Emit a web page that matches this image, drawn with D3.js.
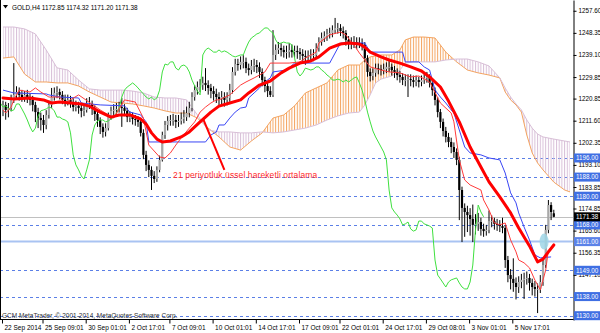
<!DOCTYPE html>
<html>
<head>
<meta charset="utf-8">
<script src="https://cdn.jsdelivr.net/npm/d3@7/dist/d3.min.js"></script>
<style>
body { margin: 0; background: #fff; }
svg text { font-family: "Liberation Sans", Arial, sans-serif; }
</style>
</head>
<body>
<svg id="chart" width="600" height="333"></svg>
<script>
// GOLD H4 candles
var opens = [1216.0,1218.2,1216.1,1216.9,1220.3,1222.4,1223.6,1222.4,1221.5,1222.4,
1221.5,1220.3,1218.2,1215.2,1212.7,1211.9,1209.8,1214.0,1218.2,1221.5,
1223.2,1223.6,1222.4,1220.3,1219.4,1220.3,1219.0,1217.3,1217.8,1216.9,
1215.7,1216.1,1218.6,1218.6,1216.5,1214.4,1211.9,1209.0,1206.9,1208.5,
1213.6,1215.7,1216.1,1216.5,1217.3,1216.9,1215.7,1213.1,1213.1,1212.3,
1211.9,1211.1,1206.5,1197.3,1193.1,1191.0,1188.5,1187.2,1191.0,1195.2,
1205.6,1209.8,1211.5,1211.9,1211.9,1211.1,1211.5,1212.3,1213.1,1214.8,
1216.9,1221.5,1224.4,1225.7,1226.5,1227.4,1226.5,1225.3,1224.0,1222.8,
1221.5,1220.7,1221.5,1220.3,1221.1,1224.4,1232.0,1235.3,1234.9,1236.2,
1236.2,1233.6,1232.8,1234.5,1234.9,1234.1,1232.0,1228.6,1226.1,1224.0,
1222.4,1239.1,1241.2,1242.0,1241.2,1240.3,1240.3,1241.2,1240.3,1240.8,
1240.3,1239.5,1238.7,1238.3,1238.7,1239.1,1239.1,1242.0,1244.5,1246.2,
1247.0,1247.9,1248.3,1249.5,1250.4,1250.4,1249.1,1248.3,1245.4,1243.7,
1244.1,1244.5,1244.1,1244.1,1243.3,1237.8,1232.0,1230.3,1231.6,1233.6,
1233.2,1232.8,1233.2,1234.1,1234.1,1232.8,1232.0,1230.7,1229.9,1228.6,
1228.6,1229.0,1228.6,1227.8,1228.6,1227.8,1228.6,1229.5,1229.9,1227.4,
1224.4,1220.3,1215.2,1211.1,1207.3,1204.8,1202.7,1200.6,1198.5,1195.2,
1182.6,1175.1,1173.4,1172.1,1170.5,1168.0,1168.4,1169.2,1166.3,1165.4,
1165.9,1169.6,1169.6,1168.4,1168.0,1167.5,1166.7,1153.3,1147.0,1145.4,
1143.7,1142.0,1144.1,1145.0,1145.4,1145.8,1143.7,1142.0,1141.2,1141.2,
1144.1,1151.2,1165.9,1176.3,1172.85];
var highs = [1220.0,1219.5,1219.0,1222.5,1235.7,1226.0,1225.5,1224.5,1224.0,1224.5,
1223.0,1222.0,1219.5,1217.0,1215.0,1214.0,1216.0,1220.0,1225.3,1225.5,
1226.0,1225.0,1224.0,1222.5,1222.5,1222.0,1221.0,1220.0,1219.5,1218.5,
1218.5,1221.0,1221.5,1220.0,1218.0,1215.5,1213.0,1210.5,1210.5,1215.0,
1217.5,1218.5,1219.0,1219.5,1221.1,1218.5,1217.0,1215.5,1215.0,1214.0,
1213.5,1212.5,1208.0,1199.0,1195.0,1192.5,1190.5,1192.5,1197.0,1207.0,
1211.5,1213.5,1214.0,1214.5,1214.0,1214.0,1215.0,1216.0,1217.5,1219.5,
1223.5,1226.5,1228.0,1229.0,1230.0,1233.6,1228.5,1227.0,1226.0,1225.0,
1223.5,1224.0,1223.5,1223.5,1227.0,1234.0,1237.5,1237.5,1238.5,1239.0,
1238.0,1235.5,1237.0,1237.5,1237.0,1236.0,1233.5,1230.0,1228.0,1226.0,
1249.5,1243.5,1244.5,1244.0,1243.0,1243.0,1244.0,1243.5,1243.0,1243.0,
1242.0,1241.5,1241.0,1241.0,1241.5,1241.5,1244.0,1246.5,1248.5,1249.0,
1250.0,1250.5,1251.5,1254.6,1252.5,1252.0,1251.0,1249.5,1247.0,1246.5,
1247.0,1246.5,1246.5,1246.0,1244.5,1239.0,1233.5,1233.5,1235.5,1235.5,
1235.0,1235.5,1236.0,1236.5,1235.5,1234.5,1233.5,1232.5,1231.5,1231.0,
1231.0,1231.0,1230.5,1230.5,1230.0,1230.5,1231.5,1232.0,1231.0,1228.5,
1225.5,1221.5,1216.5,1212.5,1209.0,1206.5,1204.5,1202.5,1200.0,1196.5,
1184.0,1177.0,1176.0,1175.0,1176.5,1172.5,1173.0,1171.0,1168.5,1168.0,
1174.0,1172.0,1171.0,1170.5,1170.0,1171.0,1168.0,1155.0,1149.5,1154.0,
1146.0,1146.5,1147.5,1148.0,1148.5,1147.5,1145.5,1144.5,1143.5,1147.0,
1153.5,1168.0,1178.4,1177.5,1174.32];
var lows = [1213.5,1212.0,1213.0,1215.5,1219.0,1220.5,1220.0,1219.5,1219.5,1219.0,
1218.0,1215.5,1211.0,1208.5,1207.5,1206.5,1208.0,1212.5,1217.0,1220.0,
1221.0,1220.5,1218.5,1217.5,1218.0,1217.0,1215.5,1215.5,1214.5,1213.0,
1213.5,1215.0,1216.5,1214.0,1211.5,1209.0,1206.0,1204.5,1205.0,1207.5,
1212.0,1214.0,1214.0,1215.0,1209.0,1213.5,1211.0,1211.0,1210.0,1209.5,
1209.0,1205.0,1195.5,1190.5,1188.0,1182.6,1185.5,1186.0,1190.0,1194.5,
1204.0,1207.5,1209.5,1209.5,1208.5,1209.0,1210.0,1210.5,1211.5,1213.0,
1215.5,1220.0,1222.5,1223.5,1224.5,1224.0,1222.5,1221.0,1220.0,1219.0,
1218.0,1218.5,1217.5,1218.0,1219.5,1223.0,1230.5,1232.5,1233.0,1233.5,
1231.5,1230.5,1231.0,1232.0,1231.5,1229.5,1226.0,1223.5,1221.5,1221.5,
1221.5,1237.0,1239.5,1238.5,1238.0,1237.5,1238.0,1238.0,1238.0,1237.5,
1237.0,1236.0,1235.0,1236.0,1236.5,1236.5,1237.5,1240.5,1243.0,1244.5,
1245.0,1246.0,1246.5,1248.0,1248.0,1247.0,1246.0,1243.0,1241.5,1241.5,
1242.0,1241.5,1242.0,1241.0,1236.0,1230.0,1228.0,1228.5,1230.0,1231.0,
1230.5,1231.0,1231.5,1232.0,1230.5,1229.5,1228.5,1227.5,1226.5,1226.0,
1221.5,1226.0,1225.5,1226.0,1225.5,1226.0,1227.0,1227.5,1225.5,1222.0,
1218.0,1213.0,1208.5,1205.0,1202.5,1200.5,1198.0,1196.0,1193.0,1170.0,
1160.8,1163.0,1165.0,1163.5,1160.8,1164.0,1165.5,1163.5,1163.0,1163.5,
1164.5,1167.0,1166.0,1165.5,1165.0,1164.5,1150.0,1144.0,1141.0,1140.0,
1136.8,1139.5,1141.5,1137.0,1143.0,1140.5,1138.5,1138.0,1131.1,1139.5,
1142.5,1150.0,1164.5,1170.0,1171.20];
var closes = [1218.2,1216.1,1216.9,1220.3,1222.4,1223.6,1222.4,1221.5,1222.4,1221.5,
1220.3,1218.2,1215.2,1212.7,1211.9,1209.8,1214.0,1218.2,1221.5,1223.2,
1223.6,1222.4,1220.3,1219.4,1220.3,1219.0,1217.3,1217.8,1216.9,1215.7,
1216.1,1218.6,1218.6,1216.5,1214.4,1211.9,1209.0,1206.9,1208.5,1213.6,
1215.7,1216.1,1216.5,1217.3,1216.9,1215.7,1213.1,1213.1,1212.3,1211.9,
1211.1,1206.5,1197.3,1193.1,1191.0,1188.5,1187.2,1191.0,1195.2,1205.6,
1209.8,1211.5,1211.9,1211.9,1211.1,1211.5,1212.3,1213.1,1214.8,1216.9,
1221.5,1224.4,1225.7,1226.5,1227.4,1226.5,1225.3,1224.0,1222.8,1221.5,
1220.7,1221.5,1220.3,1221.1,1224.4,1232.0,1235.3,1234.9,1236.2,1236.2,
1233.6,1232.8,1234.5,1234.9,1234.1,1232.0,1228.6,1226.1,1224.0,1222.4,
1239.1,1241.2,1242.0,1241.2,1240.3,1240.3,1241.2,1240.3,1240.8,1240.3,
1239.5,1238.7,1238.3,1238.7,1239.1,1239.1,1242.0,1244.5,1246.2,1247.0,
1247.9,1248.3,1249.5,1250.4,1250.4,1249.1,1248.3,1245.4,1243.7,1244.1,
1244.5,1244.1,1244.1,1243.3,1237.8,1232.0,1230.3,1231.6,1233.6,1233.2,
1232.8,1233.2,1234.1,1234.1,1232.8,1232.0,1230.7,1229.9,1228.6,1228.6,
1229.0,1228.6,1227.8,1228.6,1227.8,1228.6,1229.5,1229.9,1227.4,1224.4,
1220.3,1215.2,1211.1,1207.3,1204.8,1202.7,1200.6,1198.5,1195.2,1182.6,
1175.1,1173.4,1172.1,1170.5,1168.0,1168.4,1169.2,1166.3,1165.4,1165.9,
1169.6,1169.6,1168.4,1168.0,1167.5,1166.7,1153.3,1147.0,1145.4,1143.7,
1142.0,1144.1,1145.0,1145.4,1145.8,1143.7,1142.0,1141.2,1141.2,1144.1,
1151.2,1165.9,1176.3,1173.4,1171.38];

// 21 period EMA (thick red), [bar, price]
var emaLine = [[0,1221.1],[4,1220.7],[10,1221.1],[15,1220.3],[18,1219.0],[21,1219.4],[25,1219.0],
[29,1218.6],[32,1217.7],[36,1215.2],[40,1213.1],[43,1214.0],[47,1214.0],[51,1212.3],[53,1210.2],
[55,1206.5],[57,1203.9],[59,1202.7],[62,1203.1],[66,1204.8],[69,1206.9],[73,1211.1],[77,1215.2],
[80,1217.7],[84,1219.0],[88,1220.3],[91,1223.2],[95,1226.5],[99,1228.2],[103,1231.6],[106,1233.6],
[110,1235.7],[114,1236.6],[117,1238.3],[121,1242.0],[125,1243.7],[128,1244.1],[132,1243.7],
[134,1242.4],[136,1240.3],[140,1238.3],[143,1237.0],[147,1235.7],[151,1234.1],[155,1232.4],
[158,1229.9],[162,1225.7],[165,1219.8],[169,1211.1],[173,1200.6],[177,1192.2],[180,1186.0],
[184,1179.7],[188,1173.0],[191,1166.7],[195,1159.2],[198,1152.5],[200,1153.7],[202,1156.7],[204,1159.6]];

// Ichimoku: tenkan (thin red), kijun (blue), [bar, price]
var tenkanLine = [[0,1216.1],[1,1214.8],[3,1217.3],[4,1220.3],[6,1224.4],[10,1223.6],[12,1225.3],
[14,1223.6],[17,1221.5],[21,1221.5],[23,1219.0],[28,1222.4],[36,1216.1],[41,1212.7],[45,1220.3],
[49,1219.4],[52,1212.7],[54,1201.4],[58,1196.4],[60,1196.0],[62,1198.1],[64,1201.4],[66,1204.4],
[69,1208.5],[71,1211.1],[73,1215.2],[75,1217.3],[77,1219.0],[79,1220.3],[80,1220.3],[84,1222.4],
[88,1226.5],[90,1227.8],[93,1229.5],[95,1230.7],[97,1232.0],[99,1235.7],[106,1235.7],[110,1236.2],
[112,1237.8],[116,1240.3],[117,1244.1],[121,1247.5],[125,1248.7],[127,1247.5],[129,1244.5],
[130,1243.3],[132,1239.9],[134,1237.0],[136,1234.1],[140,1232.8],[143,1232.0],[147,1231.6],
[151,1229.9],[154,1230.3],[158,1227.8],[162,1219.0],[166,1214.8],[167,1211.1],[169,1195.2],
[171,1186.8],[173,1184.7],[177,1182.6],[178,1178.4],[180,1174.2],[182,1168.8],[184,1168.0],
[186,1168.8],[188,1161.7],[190,1156.7],[191,1153.3],[193,1152.1],[195,1150.0],[197,1144.9],
[199,1140.8],[201,1149.1],[202,1157.5]];
var kijunLine = [[0,1224.4],[4,1223.2],[16,1222.8],[17,1222.4],[21,1221.5],[28,1221.1],[29,1219.0],
[36,1218.2],[45,1217.8],[47,1215.2],[51,1214.0],[53,1211.1],[54,1202.7],[75,1202.7],[77,1205.6],
[79,1206.9],[80,1209.8],[82,1209.8],[84,1212.7],[86,1215.2],[88,1216.9],[90,1217.3],[91,1221.1],
[93,1223.2],[95,1225.3],[97,1227.8],[99,1229.5],[100,1232.0],[105,1232.8],[108,1235.7],[121,1235.7],
[122,1237.8],[125,1244.1],[134,1244.1],[136,1240.3],[148,1240.3],[149,1236.2],[154,1236.2],
[156,1234.1],[158,1232.8],[160,1224.4],[162,1221.5],[164,1219.0],[166,1216.1],[167,1214.8],
[169,1207.7],[171,1200.6],[173,1198.1],[177,1197.3],[180,1196.0],[184,1195.2],[186,1189.7],
[188,1181.4],[190,1177.2],[191,1173.0],[193,1167.1],[195,1161.7],[197,1155.4],[199,1154.2],[203,1154.6]];

// Ichimoku cloud (senkou spans A and B, already shifted forward)
var cloudBars = [0,4,8,12,16,20,24,28,32,36,40,44,48,52,56,60,64,68,72,76,80,84,88,92,96,100,
104,108,112,116,120,124,128,132,134,136,138,140,144,147,149,152,156,160,164,168,172,176,180,184,
186,188,190,192,194,196,198,200,204,208,210];
var spanA = [1237.8,1238.3,1231.1,1227.8,1227.8,1227.4,1227.4,1226.1,1223.6,1221.5,1219.4,1219.0,
1218.6,1217.8,1216.9,1215.7,1214.8,1214.8,1212.7,1208.5,1204.8,1200.6,1199.3,1203.1,1206.5,1212.7,
1214.0,1217.8,1223.2,1225.3,1227.4,1232.8,1234.9,1234.9,1237.0,1238.3,1238.7,1239.1,1239.1,1241.2,
1245.4,1246.6,1246.6,1246.2,1240.3,1236.2,1232.8,1231.6,1230.7,1229.5,1223.6,1220.3,1218.2,1215.2,
1205.6,1198.1,1193.9,1191.0,1185.9,1182.6,1181.8];
var spanB = [1250.8,1250.8,1250.0,1247.9,1241.2,1233.7,1232.8,1228.6,1224.9,1224.4,1224.4,1224.4,
1224.0,1223.2,1221.5,1221.1,1221.1,1220.3,1214.0,1207.7,1206.9,1206.9,1206.5,1206.5,1206.9,1206.5,
1206.9,1207.7,1208.5,1209.8,1211.9,1213.6,1214.8,1215.2,1218.2,1222.4,1227.4,1229.0,1230.3,1232.8,
1235.7,1236.2,1236.2,1236.2,1237.0,1237.4,1237.4,1236.2,1234.5,1229.5,1225.3,1221.5,1218.6,1216.1,
1211.9,1208.5,1206.0,1204.8,1203.9,1203.1,1202.7];
var chikouShift = 26;

// horizontal levels
var dashedLevels = [1196.00, 1188.00, 1180.00, 1168.00, 1149.00, 1138.00, 1130.00];
var solidLevel = 1161.00;
var bidPrice = 1171.38;

// axes
var priceTicks = [1257.60, 1248.35, 1239.10, 1229.85, 1220.85, 1211.60, 1202.35, 1193.10,
  1183.85, 1174.85, 1165.60, 1156.35, 1147.10];
var timeBars = [0, 15, 31, 47, 62, 78, 94, 110, 125, 141, 157, 173, 189];
var timeLabels = ["22 Sep 2014", "25 Sep 09:01", "30 Sep 01:01", "2 Oct 17:01", "7 Oct 09:01",
  "10 Oct 01:01", "14 Oct 17:01", "17 Oct 09:01", "22 Oct 01:01", "24 Oct 17:01",
  "29 Oct 08:01", "3 Nov 01:01", "5 Nov 17:01"];

var titleText = "GOLD,H4  1172.85 1174.32 1171.20 1171.38";
var noteText = "21 periyotluk üssel hareketli ortalama";
var noteFrom = [74, 1212.7], noteTo = [82, 1191.0], noteAt = [63, 1187.8];
var markerAt = [200.4, 1161.0];

var svg = d3.select("#chart");
var x = d3.scaleLinear().domain([0, 204]).range([3, 553.8]);
var y = d3.scaleLinear().domain([1128.2, 1262.1]).range([320, 0]);
var barW = x(1) - x(0);

var defs = svg.append("defs");
defs.append("clipPath").attr("id", "plotClip")
  .append("rect").attr("x", 1).attr("y", 0).attr("width", 572).attr("height", 319.5);

var cx = function(d, k) { return x(cloudBars[k]); };
defs.append("clipPath").attr("id", "aboveB").append("path")
  .attr("d", d3.area().x(cx).y0(0).y1(function(d) { return y(d); })(spanB));
defs.append("clipPath").attr("id", "belowB").append("path")
  .attr("d", d3.area().x(cx).y0(330).y1(function(d) { return y(d); })(spanB));

function hatch(id, color) {
  var p = defs.append("pattern").attr("id", id)
    .attr("patternUnits", "userSpaceOnUse")
    .attr("x", x(0) - 0.5).attr("y", 0)
    .attr("width", barW).attr("height", 20);
  p.append("rect").attr("width", 1).attr("height", 20).attr("fill", color);
}
hatch("hatchA", "#f4a460");
hatch("hatchB", "#d8bfd8");

var plot = svg.append("g").attr("clip-path", "url(#plotClip)");

// levels
plot.selectAll(".lvl").data(dashedLevels).join("line")
  .attr("class", "lvl")
  .attr("x1", 0).attr("x2", 573)
  .attr("y1", function(d) { return Math.round(y(d)) + 0.5; })
  .attr("y2", function(d) { return Math.round(y(d)) + 0.5; })
  .attr("stroke", "#5b7fe6").attr("stroke-width", 1).attr("stroke-dasharray", "3,3");
plot.append("line")
  .attr("x1", 0).attr("x2", 573).attr("y1", y(solidLevel)).attr("y2", y(solidLevel))
  .attr("stroke", "#a9c3f2").attr("stroke-width", 2);
plot.append("line")
  .attr("x1", 0).attr("x2", 573).attr("y1", Math.round(y(bidPrice)) + 0.5).attr("y2", Math.round(y(bidPrice)) + 0.5)
  .attr("stroke", "#c0c0c0").attr("stroke-width", 1);

// cloud
var cloudArea = d3.area().x(cx)
  .y0(function(d, k) { return y(spanB[k]); })
  .y1(function(d, k) { return y(spanA[k]); });
plot.append("g").attr("clip-path", "url(#aboveB)")
  .append("path").attr("d", cloudArea(spanA)).attr("fill", "url(#hatchA)");
plot.append("g").attr("clip-path", "url(#belowB)")
  .append("path").attr("d", cloudArea(spanA)).attr("fill", "url(#hatchB)");
plot.append("path")
  .attr("d", d3.line().x(cx).y(function(d) { return y(d); })(spanA))
  .attr("fill", "none").attr("stroke", "#f4a460").attr("stroke-width", 1);
plot.append("path")
  .attr("d", d3.line().x(cx).y(function(d) { return y(d); })(spanB))
  .attr("fill", "none").attr("stroke", "#d8bfd8").attr("stroke-width", 1);

// candles
var bars = d3.range(closes.length);
var candle = plot.append("g").selectAll("g").data(bars).join("g");
candle.append("line")
  .attr("x1", function(i) { return x(i); }).attr("x2", function(i) { return x(i); })
  .attr("y1", function(i) { return y(highs[i]); }).attr("y2", function(i) { return y(lows[i]); })
  .attr("stroke", "#000").attr("stroke-width", 1);
candle.append("rect")
  .attr("x", function(i) { return x(i) - 1.1; })
  .attr("width", 2.2)
  .attr("y", function(i) { return y(Math.max(opens[i], closes[i])); })
  .attr("height", function(i) { return Math.max(0.8, Math.abs(y(opens[i]) - y(closes[i]))); })
  .attr("fill", function(i) { return closes[i] >= opens[i] ? "#a8a8a8" : "#000"; });

// chikou span
plot.append("path")
  .attr("d", d3.line()
    .x(function(d, i) { return x(i - chikouShift); })
    .y(function(d) { return y(d); })(closes))
  .attr("fill", "none").attr("stroke", "#3fe03f").attr("stroke-width", 1);

var pairLine = d3.line().x(function(d) { return x(d[0]); }).y(function(d) { return y(d[1]); });
plot.append("path").attr("d", pairLine(kijunLine))
  .attr("fill", "none").attr("stroke", "#3a46f5").attr("stroke-width", 1);
plot.append("path").attr("d", pairLine(tenkanLine))
  .attr("fill", "none").attr("stroke", "#ff3b3b").attr("stroke-width", 1);
plot.append("path").attr("d", pairLine(emaLine))
  .attr("fill", "none").attr("stroke", "#ff0000").attr("stroke-width", 3)
  .attr("stroke-linejoin", "round").attr("stroke-linecap", "round");

// marker
plot.append("ellipse")
  .attr("cx", x(markerAt[0])).attr("cy", y(markerAt[1]))
  .attr("rx", 4.5).attr("ry", 8).attr("fill", "#9fd6e6").attr("opacity", 0.85);

// annotation
plot.append("line")
  .attr("x1", x(noteFrom[0])).attr("y1", y(noteFrom[1]))
  .attr("x2", x(noteTo[0])).attr("y2", y(noteTo[1]))
  .attr("stroke", "#ff0000").attr("stroke-width", 2);
plot.append("text")
  .attr("x", x(noteAt[0])).attr("y", y(noteAt[1]))
  .attr("font-size", 8.5).attr("fill", "#ff2a2a").attr("letter-spacing", 0.1)
  .text(noteText);

// copyright
plot.append("text").attr("x", 2).attr("y", 318)
  .attr("font-size", 6.5).attr("fill", "#333")
  .text("GCM MetaTrader, \u00a9 2001-2014, MetaQuotes Software Corp.");

// title
svg.append("path").attr("d", "M3,5 L8,5 L5.5,8.5 Z").attr("fill", "#000");
svg.append("text").attr("x", 12).attr("y", 9.5).attr("font-size", 6.4).attr("fill", "#000")
  .text(titleText);

// frame
svg.append("line").attr("x1", 0.5).attr("x2", 0.5).attr("y1", 0).attr("y2", 320).attr("stroke", "#000");

// right price axis
var yAxis = d3.axisRight(y).tickValues(priceTicks).tickSize(3).tickSizeOuter(0).tickPadding(2)
  .tickFormat(d3.format(".2f"));
var ga = svg.append("g").attr("transform", "translate(573.5,0)").call(yAxis);
ga.select(".domain").attr("stroke", "#000");
ga.selectAll("text").attr("font-size", 6.3).attr("fill", "#000")
  .style("font-family", "'Liberation Sans', Arial, sans-serif");
ga.selectAll("line").attr("stroke", "#000");

// level labels on the price axis
var labelLevels = dashedLevels.concat([solidLevel]);
var lab = svg.append("g").selectAll("g").data(labelLevels).join("g")
  .attr("transform", function(d) { return "translate(574," + y(d) + ")"; });
lab.append("rect").attr("x", 0).attr("y", -4.5).attr("width", 26).attr("height", 9)
  .attr("fill", function(d) { return d === solidLevel ? "#5b82e8" : "#3f6fe3"; });
lab.append("text").attr("x", 2).attr("y", 2.3).attr("font-size", 6.3).attr("fill", "#fff")
  .text(function(d) { return d3.format(".2f")(d); });
var bid = svg.append("g").attr("transform", "translate(574," + y(bidPrice) + ")");
bid.append("rect").attr("x", 0).attr("y", -4.5).attr("width", 26).attr("height", 9).attr("fill", "#000");
bid.append("text").attr("x", 2).attr("y", 2.3).attr("font-size", 6.3).attr("fill", "#fff")
  .text(d3.format(".2f")(bidPrice));

// time axis
var xAxis = d3.axisBottom(x).tickValues(timeBars).tickSize(4).tickSizeOuter(0)
  .tickFormat(function(d, k) { return timeLabels[k]; });
var gx = svg.append("g").attr("transform", "translate(-1,319.5)").call(xAxis);
gx.select(".domain").attr("d", "M1.5,0H574.5").attr("stroke", "#000");
gx.selectAll("line").attr("stroke", "#000");
gx.selectAll("text").attr("text-anchor", "start").attr("x", 2).attr("dy", "0.55em")
  .attr("font-size", 6.5).attr("fill", "#000")
  .style("font-family", "'Liberation Sans', Arial, sans-serif");
</script>
</body>
</html>
